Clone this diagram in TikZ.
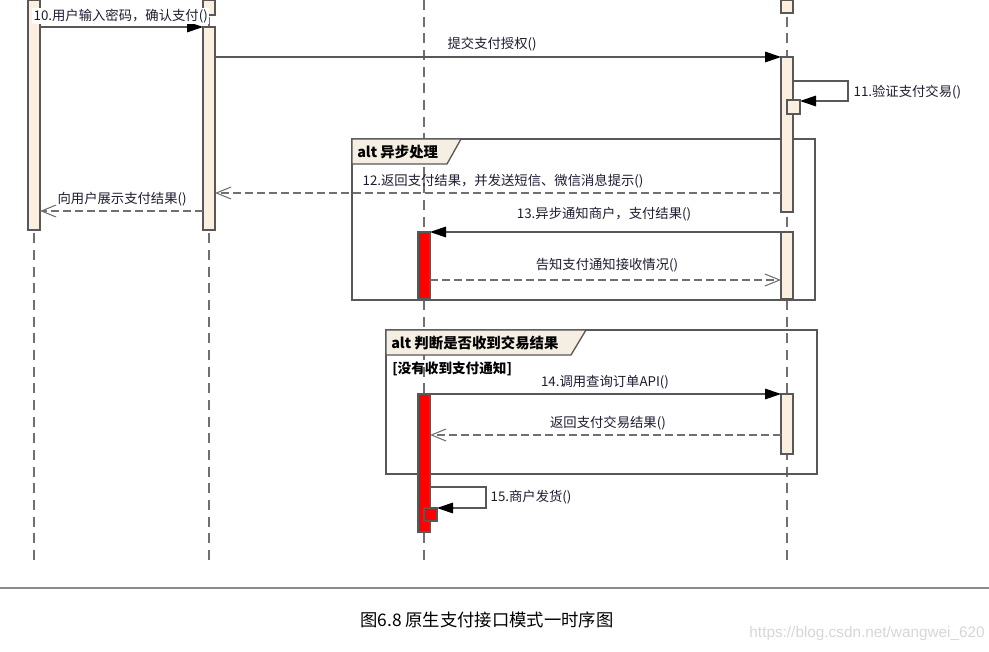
\documentclass[tikz,border=0pt]{standalone}
\usepackage{fontspec}
\setmainfont{Noto Sans CJK SC}
\newfontfamily\wmfont{Liberation Sans}
\usetikzlibrary{arrows.meta}

\definecolor{seqbarfill}{RGB}{251,240,224}
\definecolor{seqedge}{RGB}{88,88,88}
\definecolor{seqline}{RGB}{112,112,112}
\definecolor{seqtabfill}{RGB}{245,238,226}
\definecolor{seqtext}{RGB}{28,28,48}
\definecolor{seqred}{RGB}{255,0,0}
\definecolor{seqwater}{RGB}{214,214,214}
\definecolor{seqrule}{RGB}{140,140,140}

\tikzset{
  seqbar/.style={fill=seqbarfill,draw=seqedge,line width=0.9pt},
  seqredbar/.style={fill=seqred,draw=seqedge,line width=0.9pt},
  lifeline/.style={draw=seqline,line width=0.9pt,dash pattern=on 7.5pt off 5pt},
  callmsg/.style={draw=seqedge,line width=0.8pt,-{Triangle[length=12pt,width=8pt,color=black]}},
  replymsg/.style={draw=seqline,line width=0.8pt,dash pattern=on 6pt off 3pt,-{Straight Barb[length=11pt,width=9pt]}},
  msglabel/.style={font=\fontsize{10}{12}\selectfont,text=seqtext,inner sep=1pt},
  seqframe/.style={draw=seqedge,line width=1.1pt},
  seqtab/.style={fill=seqtabfill,draw=seqedge,line width=1pt},
  tablabel/.style={font=\fontsize{10.8}{12}\selectfont\bfseries,text=black,inner sep=0pt},
}

\begin{document}
\begin{tikzpicture}[x=0.75pt,y=-0.75pt]
\useasboundingbox (0,0) rectangle (989,652);

% lifelines
\coordinate (usrtop) at (34,0);   \coordinate (usrbot) at (34,560);
\coordinate (apptop) at (209,0);  \coordinate (appbot) at (209,560);
\coordinate (shoptop) at (424,0); \coordinate (shopbot) at (424,560);
\coordinate (wxtop) at (787,0);   \coordinate (wxbot) at (787,560);
\draw[lifeline] (usrtop) -- (usrbot);
\draw[lifeline] (apptop) -- (appbot);
\draw[lifeline] (shoptop) -- (shopbot);
\draw[lifeline] (wxtop) -- (wxbot);

% alt frames
\draw[seqframe] (352,139) rectangle (815,300);
\draw[seqtab] (352,139) -- (461,139) -- (447,164) -- (352,164) -- cycle;
\node[tablabel,anchor=west] (altasync) at (357,152) {alt 异步处理};

\draw[seqframe] (386,330) rectangle (817,474);
\draw[seqtab] (386,330) -- (586,330) -- (571,355) -- (386,355) -- cycle;
\node[tablabel,anchor=west] (altcheck) at (391,343) {alt 判断是否收到交易结果};
\node[tablabel,font=\fontsize{10.2}{12}\selectfont\bfseries,anchor=west] (guard) at (392,369) {[没有收到支付通知]};

% activation bars
\draw[seqbar] (28,0) rectangle (40,230);
\draw[seqbar] (203,0) rectangle (215,15);
\draw[seqbar] (203,27) rectangle (215,230);
\draw[seqbar] (781,0) rectangle (793,13);
\draw[seqbar] (781,57) rectangle (793,212);
\draw[seqbar] (781,232) rectangle (793,299);
\draw[seqbar] (781,394) rectangle (793,454);
\draw[seqredbar] (418,232) rectangle (430,299);
\draw[seqredbar] (418,394) rectangle (430,532);

% 10
\coordinate (m10a) at (40,27); \coordinate (m10b) at (203,27);
\draw[callmsg] (m10a) -- (m10b);
\node[msglabel,fill=white,anchor=west] (m10lbl) at (32,16) {10.用户输入密码，确认支付()};

% submit
\coordinate (msuba) at (215,57); \coordinate (msubb) at (781,57);
\draw[callmsg] (msuba) -- (msubb);
\node[msglabel,anchor=west] (msublbl) at (446,44) {提交支付授权()};

% 11
\coordinate (m11a) at (793,81); \coordinate (m11turn) at (848,101); \coordinate (m11b) at (800,101);
\draw[callmsg] (m11a) -| (m11turn) -- (m11b);
\draw[seqbar] (787,100) rectangle (800,114);
\node[msglabel,anchor=west] (m11lbl) at (852,92) {11.验证支付交易()};

% 12
\coordinate (m12a) at (781,193); \coordinate (m12b) at (215,193);
\draw[replymsg] (m12a) -- (m12b);
\node[msglabel,anchor=west] (m12lbl) at (361,181) {12.返回支付结果，并发送短信、微信消息提示()};

% show result
\coordinate (mshowa) at (203,211); \coordinate (mshowb) at (40,211);
\draw[replymsg] (mshowa) -- (mshowb);
\node[msglabel,anchor=west] (mshowlbl) at (56,199) {向用户展示支付结果()};

% 13
\coordinate (m13a) at (781,232); \coordinate (m13b) at (430,232);
\draw[callmsg] (m13a) -- (m13b);
\node[msglabel] (m13lbl) at (604,214) {13.异步通知商户，支付结果()};

% notify ack
\coordinate (macka) at (430,280); \coordinate (mackb) at (781,280);
\draw[replymsg] (macka) -- (mackb);
\node[msglabel] (macklbl) at (607,265) {告知支付通知接收情况()};

% 14
\coordinate (m14a) at (430,394); \coordinate (m14b) at (781,394);
\draw[callmsg] (m14a) -- (m14b);
\node[msglabel] (m14lbl) at (605,382) {14.调用查询订单API()};

% query result
\coordinate (mqrya) at (781,435); \coordinate (mqryb) at (430,435);
\draw[replymsg] (mqrya) -- (mqryb);
\node[msglabel] (mqrylbl) at (608,423) {返回支付交易结果()};

% 15
\coordinate (m15a) at (430,487); \coordinate (m15turn) at (486,508); \coordinate (m15b) at (437,508);
\draw[callmsg] (m15a) -| (m15turn) -- (m15b);
\draw[seqredbar] (424,508) rectangle (437,521);
\node[msglabel,anchor=west] (m15lbl) at (489,497) {15.商户发货()};

% caption
\coordinate (rulea) at (0,588); \coordinate (ruleb) at (989,588);
\draw[draw=seqrule,line width=1.4pt] (rulea) -- (ruleb);
\node[font=\fontsize{13}{15}\selectfont,text=black,anchor=west,inner sep=0pt] (caption) at (360,620) {图6.8 原生支付接口模式一时序图};
\node[font=\wmfont\fontsize{11.5}{13}\selectfont,text=seqwater,anchor=east,inner sep=0pt] (wmark) at (985,634) {https://blog.csdn.net/wangwei\_620};
\end{tikzpicture}
\end{document}
